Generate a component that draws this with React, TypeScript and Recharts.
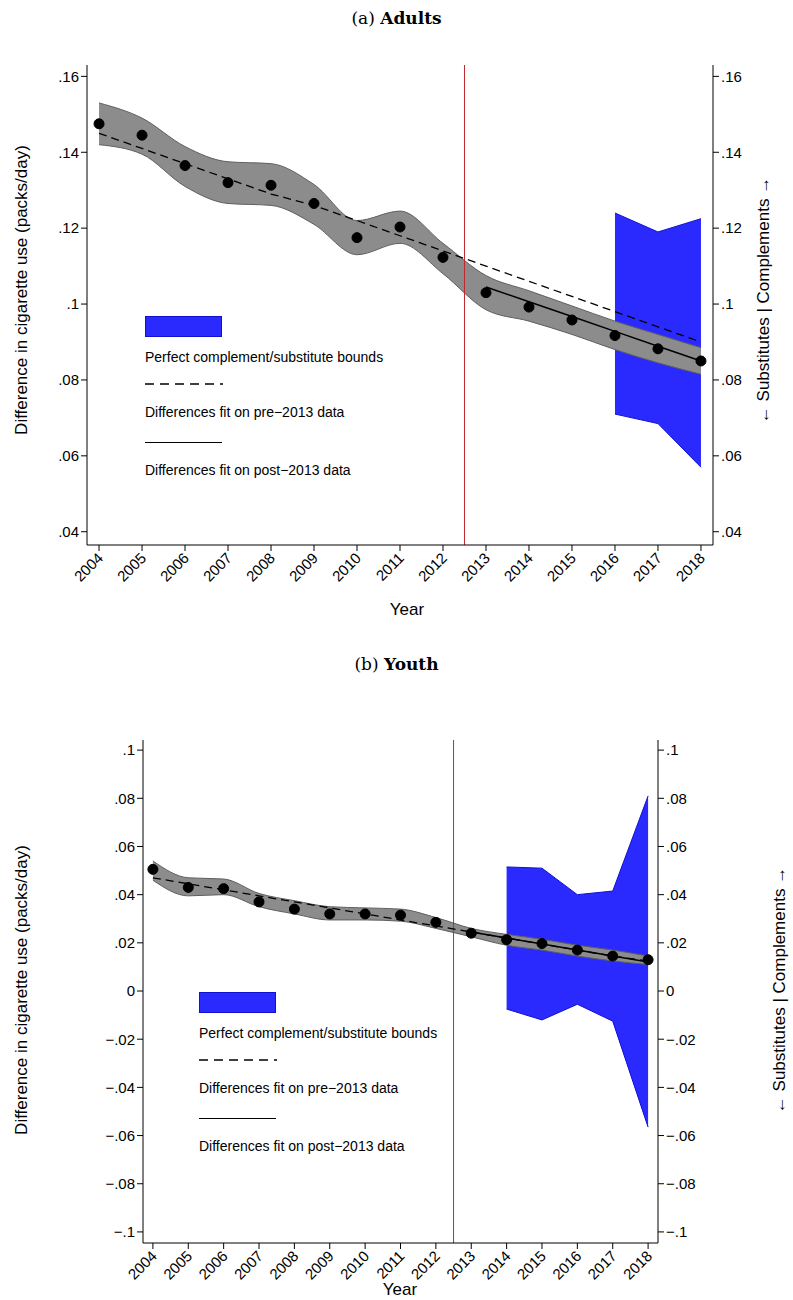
import { ComposedChart, Area, Line, XAxis, YAxis, ReferenceLine } from "recharts";

const YEARS = [2004, 2005, 2006, 2007, 2008, 2009, 2010, 2011, 2012, 2013, 2014, 2015, 2016, 2017, 2018];

// Adults
const A_POINTS = [0.1475, 0.1445, 0.1365, 0.132, 0.1313, 0.1265, 0.1175, 0.1203, 0.1123, 0.103, 0.0992, 0.0958, 0.0917, 0.0882, 0.085];
const A_CI_HI = [0.153, 0.149, 0.1415, 0.1375, 0.137, 0.1315, 0.122, 0.1245, 0.116, 0.1075, 0.1035, 0.0995, 0.0955, 0.092, 0.0885];
const A_CI_LO = [0.142, 0.1395, 0.131, 0.1265, 0.126, 0.121, 0.113, 0.116, 0.108, 0.0985, 0.0955, 0.092, 0.088, 0.0845, 0.0815];
const A_PRE = [0.145, 0.141, 0.137, 0.133, 0.129, 0.126, 0.122, 0.118, 0.114, 0.11, 0.106, 0.102, 0.098, 0.094, 0.09];
const A_POST = [null, null, null, null, null, null, null, null, null, 0.1045, 0.1006, 0.0967, 0.0928, 0.0889, 0.085];
const A_BOUND_HI = [null, null, null, null, null, null, null, null, null, null, null, null, 0.124, 0.119, 0.1225];
const A_BOUND_LO = [null, null, null, null, null, null, null, null, null, null, null, null, 0.071, 0.0685, 0.057];
const A_TICKS = [0.04, 0.06, 0.08, 0.1, 0.12, 0.14, 0.16];

// Youth
const Y_POINTS = [0.0505, 0.043, 0.0425, 0.037, 0.034, 0.032, 0.032, 0.0315, 0.0285, 0.024, 0.0213, 0.0197, 0.017, 0.0145, 0.013];
const Y_CI_HI = [0.054, 0.047, 0.0465, 0.0405, 0.0375, 0.035, 0.0345, 0.034, 0.0305, 0.026, 0.0235, 0.0215, 0.019, 0.017, 0.0145];
const Y_CI_LO = [0.046, 0.0395, 0.04, 0.035, 0.032, 0.0295, 0.0295, 0.029, 0.026, 0.0225, 0.019, 0.017, 0.0145, 0.0125, 0.011];
const Y_PRE = [0.047, 0.0445, 0.042, 0.0395, 0.037, 0.0345, 0.032, 0.0295, 0.027, 0.0245, 0.022, 0.0195, 0.017, 0.0145, 0.0125];
const Y_POST = [null, null, null, null, null, null, null, null, null, 0.0245, 0.022, 0.0195, 0.017, 0.0145, 0.012];
const Y_BOUND_HI = [null, null, null, null, null, null, null, null, null, null, 0.0515, 0.051, 0.04, 0.0415, 0.081];
const Y_BOUND_LO = [null, null, null, null, null, null, null, null, null, null, -0.0075, -0.012, -0.0055, -0.0125, -0.0565];
const Y_TICKS = [-0.1, -0.08, -0.06, -0.04, -0.02, 0, 0.02, 0.04, 0.06, 0.08, 0.1];

const FONT = "'Liberation Sans', Arial, sans-serif";

function fmt(v: number) {
  if (Math.abs(v) < 1e-9) return "0";
  const s = String(Math.round(Math.abs(v) * 100) / 100).replace(/^0/, "");
  return (v < 0 ? "\u2212" : "") + s;
}

function build(pts: number[], hi: number[], lo: number[], pre: number[], post: (number | null)[], bhi: (number | null)[], blo: (number | null)[]) {
  return YEARS.map((year, i) => ({
    year,
    pt: pts[i],
    ci: [lo[i], hi[i]],
    pre: pre[i],
    post: post[i],
    bound: bhi[i] == null ? null : [blo[i], bhi[i]],
  }));
}

const XTick = (props: any) => {
  const { x, y, payload } = props;
  return (
    <text x={x + 5} y={y + 6} transform={`rotate(-45 ${x + 5} ${y + 6})`} textAnchor="end" fontSize={15} fontFamily={FONT} fill="#000">
      {payload.value}
    </text>
  );
};

function Panel({ data, domain, ticks, height, margin, left, right, xh }: any) {
  const tickStyle = { fontSize: 15, fontFamily: FONT, fill: "#000" };
  return (
    <ComposedChart width={793} height={height} data={data} margin={margin}>
      <XAxis dataKey="year" type="number" domain={[2003.72, 2018.28]} ticks={YEARS} interval={0} tick={<XTick />} height={xh} stroke="#000" tickSize={6} />
      <YAxis yAxisId="l" orientation="left" domain={domain} ticks={ticks} tickFormatter={fmt} width={left} tick={tickStyle} stroke="#000" tickSize={6} allowDataOverflow />
      <YAxis yAxisId="r" orientation="right" domain={domain} ticks={ticks} tickFormatter={fmt} width={right} tick={{ ...tickStyle, textAnchor: "start" }} stroke="#000" tickSize={6} allowDataOverflow />
      <Area yAxisId="l" dataKey="bound" type="linear" fill="#2a2aff" fillOpacity={1} stroke="#1010d0" strokeWidth={1} isAnimationActive={false} />
      <Area yAxisId="l" dataKey="ci" type="monotone" fill="#8c8c8c" fillOpacity={1} stroke="#5f5f5f" strokeWidth={1} isAnimationActive={false} />
      <ReferenceLine yAxisId="l" x={2012.5} stroke="#c0282d" strokeWidth={1} />
      <Line yAxisId="l" dataKey="pre" type="linear" stroke="#000" strokeDasharray="8 5" strokeWidth={1.3} dot={false} isAnimationActive={false} />
      <Line yAxisId="l" dataKey="post" type="linear" stroke="#000" strokeWidth={1.5} dot={false} isAnimationActive={false} />
      <Line yAxisId="l" dataKey="pt" stroke="none" dot={{ r: 5, fill: "#000", stroke: "#000" }} isAnimationActive={false} />
    </ComposedChart>
  );
}

function Legend({ x, y }: { x: number; y: number }) {
  const t = { position: "absolute" as const, left: x, fontSize: 14, fontFamily: FONT, whiteSpace: "nowrap" as const };
  return (
    <>
      <div style={{ position: "absolute", left: x, top: y, width: 77, height: 21, background: "#2a2aff", border: "1px solid #1010d0", boxSizing: "border-box" }} />
      <div style={{ ...t, top: y + 33 }}>Perfect complement/substitute bounds</div>
      <svg style={{ position: "absolute", left: x, top: y + 66 }} width={78} height={4}>
        <line x1={0} y1={2} x2={78} y2={2} stroke="#000" strokeWidth={1.5} strokeDasharray="9 6" />
      </svg>
      <div style={{ ...t, top: y + 88 }}>Differences fit on pre−2013 data</div>
      <div style={{ position: "absolute", left: x, top: y + 126, width: 77, borderTop: "1.5px solid #000" }} />
      <div style={{ ...t, top: y + 146 }}>Differences fit on post−2013 data</div>
    </>
  );
}

function VLabel({ x, y, text }: { x: number; y: number; text: string }) {
  return (
    <div style={{ position: "absolute", left: x, top: y, transform: "translate(-50%, -50%) rotate(-90deg)", fontSize: 17, fontFamily: FONT, whiteSpace: "nowrap" }}>
      {text}
    </div>
  );
}

export default function App() {
  const adults = build(A_POINTS, A_CI_HI, A_CI_LO, A_PRE, A_POST, A_BOUND_HI, A_BOUND_LO);
  const youth = build(Y_POINTS, Y_CI_HI, Y_CI_LO, Y_PRE, Y_POST, Y_BOUND_HI, Y_BOUND_LO);
  const title = { position: "absolute" as const, width: 793, textAlign: "center" as const, fontSize: 17, fontFamily: "'DejaVu Serif', serif" };
  return (
    <div style={{ position: "absolute", left: 0, top: 0, width: 793, height: 1300, background: "#fff" }}>
      <div style={{ ...title, top: 8 }}>(a) <b>Adults</b></div>
      <div style={{ position: "absolute", left: 0, top: 0 }}>
        <Panel data={adults} domain={[0.0365, 0.163]} ticks={A_TICKS} height={620} margin={{ top: 65, right: 0, bottom: 0, left: 0 }} left={87} right={80} xh={75} />
      </div>
      <Legend x={145} y={316} />
      <VLabel x={22} y={290} text="Difference in cigarette use (packs/day)" />
      <VLabel x={764} y={300} text="← Substitutes | Complements →" />
      <div style={{ position: "absolute", left: 407, top: 600, transform: "translateX(-50%)", fontSize: 17, fontFamily: FONT }}>Year</div>

      <div style={{ ...title, top: 654 }}>(b) <b>Youth</b></div>
      <div style={{ position: "absolute", left: 0, top: 660 }}>
        <Panel data={youth} domain={[-0.1046, 0.1042]} ticks={Y_TICKS} height={660} margin={{ top: 80, right: 0, bottom: 0, left: 0 }} left={143} right={135} xh={77} />
      </div>
      <Legend x={199} y={992} />
      <VLabel x={22} y={990} text="Difference in cigarette use (packs/day)" />
      <VLabel x={780} y={990} text="← Substitutes | Complements →" />
      <div style={{ position: "absolute", left: 400, top: 1280, transform: "translateX(-50%)", fontSize: 17, fontFamily: FONT }}>Year</div>
    </div>
  );
}
